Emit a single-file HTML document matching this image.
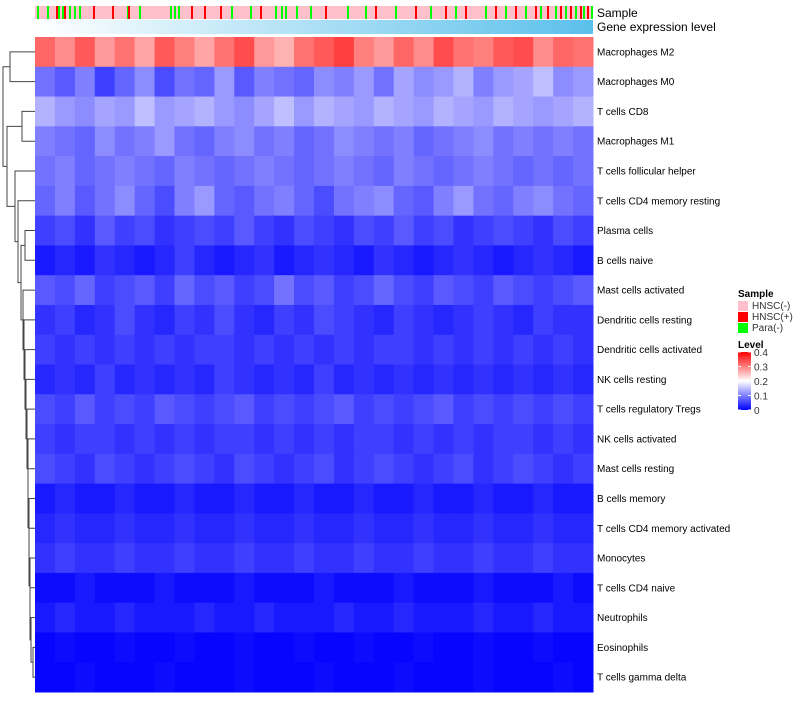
<!DOCTYPE html>
<html><head><meta charset="utf-8">
<style>
body{margin:0;background:#fff;width:800px;height:700px;overflow:hidden;font-family:"Liberation Sans",sans-serif}
svg text{font-family:"Liberation Sans",sans-serif}
</style></head>
<body>
<svg id="c" width="800" height="700"></svg>
<script>
const rowLabels=["Macrophages M2","Macrophages M0","T cells CD8","Macrophages M1","T cells follicular helper","T cells CD4 memory resting","Plasma cells","B cells naive","Mast cells activated","Dendritic cells resting","Dendritic cells activated","NK cells resting","T cells regulatory  Tregs","NK cells activated","Mast cells resting","B cells memory","T cells CD4 memory activated","Monocytes","T cells CD4 naive","Neutrophils","Eosinophils","T cells gamma delta"];
const r0=[0.32,0.29,0.33,0.28,0.31,0.27,0.33,0.3,0.27,0.31,0.34,0.28,0.26,0.31,0.33,0.35,0.3,0.28,0.32,0.29,0.34,0.31,0.3,0.33,0.34,0.29,0.32,0.31];
const r1=[0.09,0.07,0.1,0.05,0.08,0.11,0.06,0.09,0.08,0.12,0.07,0.1,0.09,0.08,0.11,0.1,0.12,0.09,0.13,0.11,0.12,0.14,0.1,0.12,0.13,0.15,0.11,0.12];
const r2=[0.14,0.12,0.11,0.13,0.12,0.15,0.12,0.13,0.14,0.12,0.11,0.13,0.15,0.12,0.14,0.13,0.12,0.14,0.13,0.12,0.14,0.13,0.12,0.14,0.13,0.12,0.13,0.14];
const r3=[0.1,0.09,0.08,0.11,0.09,0.1,0.12,0.09,0.08,0.1,0.11,0.09,0.1,0.08,0.09,0.11,0.1,0.09,0.1,0.08,0.09,0.1,0.11,0.09,0.1,0.09,0.1,0.09];
const r4=[0.09,0.1,0.08,0.09,0.1,0.09,0.08,0.1,0.09,0.08,0.09,0.1,0.09,0.08,0.09,0.1,0.09,0.08,0.1,0.09,0.08,0.09,0.1,0.09,0.08,0.09,0.08,0.09];
const r5=[0.08,0.1,0.07,0.09,0.11,0.08,0.06,0.1,0.12,0.08,0.07,0.09,0.1,0.08,0.06,0.09,0.1,0.11,0.08,0.07,0.1,0.12,0.09,0.08,0.1,0.11,0.09,0.08];
const r6=[0.05,0.06,0.04,0.07,0.05,0.06,0.04,0.05,0.06,0.05,0.07,0.05,0.04,0.06,0.05,0.04,0.06,0.05,0.07,0.05,0.06,0.04,0.05,0.06,0.05,0.04,0.06,0.05];
const r7=[0.02,0.03,0.02,0.04,0.03,0.02,0.03,0.05,0.03,0.02,0.03,0.04,0.02,0.03,0.04,0.03,0.02,0.04,0.03,0.02,0.03,0.04,0.03,0.02,0.03,0.04,0.03,0.02];
const r8=[0.07,0.06,0.08,0.05,0.06,0.07,0.05,0.08,0.06,0.07,0.05,0.06,0.09,0.06,0.07,0.05,0.06,0.08,0.06,0.05,0.07,0.06,0.05,0.07,0.06,0.05,0.06,0.07];
const r9=[0.04,0.05,0.03,0.04,0.06,0.04,0.03,0.05,0.04,0.06,0.04,0.03,0.05,0.04,0.06,0.05,0.04,0.03,0.05,0.04,0.03,0.04,0.05,0.04,0.03,0.05,0.04,0.04];
const r10=[0.05,0.04,0.05,0.04,0.05,0.04,0.05,0.04,0.05,0.05,0.04,0.05,0.04,0.05,0.04,0.05,0.04,0.05,0.05,0.04,0.05,0.04,0.05,0.04,0.05,0.04,0.05,0.04];
const r11=[0.03,0.04,0.03,0.05,0.03,0.04,0.03,0.04,0.03,0.05,0.04,0.03,0.04,0.03,0.05,0.03,0.04,0.03,0.04,0.03,0.04,0.03,0.04,0.03,0.04,0.03,0.04,0.03];
const r12=[0.06,0.05,0.07,0.05,0.06,0.05,0.07,0.06,0.05,0.06,0.07,0.05,0.06,0.05,0.06,0.07,0.05,0.06,0.05,0.06,0.07,0.05,0.06,0.05,0.06,0.05,0.06,0.05];
const r13=[0.05,0.04,0.05,0.05,0.04,0.05,0.04,0.05,0.04,0.05,0.05,0.04,0.05,0.04,0.05,0.04,0.05,0.05,0.04,0.05,0.04,0.05,0.04,0.05,0.05,0.04,0.05,0.04];
const r14=[0.06,0.05,0.04,0.06,0.05,0.04,0.05,0.06,0.05,0.04,0.06,0.05,0.04,0.05,0.06,0.04,0.05,0.06,0.05,0.04,0.05,0.06,0.04,0.05,0.06,0.05,0.04,0.05];
const r15=[0.02,0.03,0.02,0.02,0.03,0.02,0.02,0.03,0.02,0.02,0.03,0.02,0.02,0.03,0.02,0.02,0.03,0.02,0.02,0.03,0.02,0.02,0.03,0.02,0.02,0.03,0.02,0.02];
const r16=[0.03,0.04,0.03,0.03,0.04,0.03,0.03,0.04,0.03,0.03,0.04,0.03,0.03,0.04,0.03,0.03,0.04,0.03,0.03,0.04,0.03,0.03,0.04,0.03,0.03,0.04,0.03,0.03];
const r17=[0.04,0.05,0.04,0.04,0.05,0.04,0.04,0.05,0.04,0.04,0.05,0.04,0.04,0.05,0.04,0.04,0.05,0.04,0.04,0.05,0.04,0.04,0.05,0.04,0.04,0.05,0.04,0.04];
const r18=[0.01,0.01,0.02,0.01,0.01,0.01,0.02,0.01,0.01,0.01,0.02,0.01,0.01,0.01,0.02,0.01,0.01,0.01,0.02,0.01,0.01,0.01,0.02,0.01,0.01,0.01,0.02,0.01];
const r19=[0.02,0.03,0.02,0.02,0.03,0.02,0.02,0.02,0.03,0.02,0.02,0.03,0.02,0.02,0.02,0.03,0.02,0.02,0.03,0.02,0.02,0.02,0.03,0.02,0.02,0.03,0.02,0.02];
const r20=[0.005,0.01,0.005,0.005,0.01,0.005,0.005,0.01,0.005,0.005,0.01,0.005,0.005,0.01,0.005,0.005,0.01,0.005,0.005,0.01,0.005,0.005,0.01,0.005,0.005,0.01,0.005,0.005];
const r21=[0.005,0.005,0.01,0.005,0.005,0.005,0.01,0.005,0.005,0.005,0.01,0.005,0.005,0.005,0.01,0.005,0.005,0.005,0.01,0.005,0.005,0.005,0.01,0.005,0.005,0.005,0.01,0.005];
const rows=[r0,r1,r2,r3,r4,r5,r6,r7,r8,r9,r10,r11,r12,r13,r14,r15,r16,r17,r18,r19,r20,r21];
const nSamples=558;
const greenSamples=[2,12,23,27,34,39,44,92,104,135,139,143,196,215,240,246,250,261,275,312,330,360,395,420,450,470,490,505,520,530,540,548,556];
const redSamples=[21,29,58,77,93,156,169,185,225,290,340,380,410,430,460,480,500,512,525,535,545,552];
const legendTicks=[0,0.1,0.2,0.3,0.4];
const merges=[[0,1,10],[2,3,22],[20,21,33],[19,"n2",31],[18,"n3",30],[17,"n4",30],[16,"n5",29],[15,"n6",29],[14,"n7",28],[13,"n8",28],[12,"n9",27],[11,"n10",26],[10,"n11",25],[9,"n12",24],[8,"n13",23],[6,7,25],["n15","n14",21],[5,"n16",18],[4,"n17",15],["n1","n18",7],["n0","n19",3]];

const NS="http://www.w3.org/2000/svg";
const svg=document.getElementById('c');
function mk(t,a,p){const e=document.createElementNS(NS,t);for(const k in a)e.setAttribute(k,a[k]);(p||svg).appendChild(e);return e;}
const X0=35,X1=593,Y0=37,Y1=692,RH=(Y1-Y0)/rows.length;
const xs=i=>X0+(X1-X0)*i/nSamples;
const yc=i=>Y0+(i+0.5)*RH;
function col(v){const t=Math.max(0,Math.min(1,v/0.4));let r,g,b;
 if(t<0.5){const u=t/0.5;r=255*u;g=255*u;b=255;}else{const u=(t-0.5)/0.5;r=255;g=255*(1-u);b=255*(1-u);}
 return `rgb(${r|0},${g|0},${b|0})`;}

let e=mk('rect',{x:X0,y:6,width:X1-X0,height:13,fill:'#ffc0cb'});

greenSamples.forEach(s=>{const r=mk('rect',{x:xs(s),y:6,width:2,height:13,fill:'#00ff00'});
});
redSamples.forEach(s=>{const r=mk('rect',{x:xs(s),y:6,width:2,height:13,fill:'#ff0000'});
});
const defs=mk('defs',{});const lg=mk('linearGradient',{id:'gl',x1:0,x2:1,y1:0,y2:0},defs);
mk('stop',{offset:0,'stop-color':'#ffffff'},lg);mk('stop',{offset:1,'stop-color':'#5bc0eb'},lg);
e=mk('rect',{x:X0,y:20,width:X1-X0,height:14,fill:'url(#gl)'});

e=mk('text',{x:597,y:17,'font-size':12});e.textContent='Sample';

e=mk('text',{x:597,y:31,'font-size':12});e.textContent='Gene expression level';


rows.forEach((vals,i)=>{const g=mk('g',{});
 
 const bw=(X1-X0)/vals.length;
 vals.forEach((v,j)=>{const r=mk('rect',{x:X0+j*bw,y:Y0+i*RH,width:bw+0.5,height:RH+0.5,fill:col(v)},g);
  });
 const t=mk('text',{x:597,y:yc(i)+3.5,'font-size':10});t.textContent=rowLabels[i];
 });

const nodes={};
const pos=k=>typeof k==='number'?{y:yc(k),x:X0}:nodes[k];
const dg=mk('g',{stroke:'#444','stroke-width':1,fill:'none'});

merges.forEach((m,i)=>{const a=pos(m[0]),b=pos(m[1]),h=m[2];
 mk('path',{d:`M${a.x},${a.y}H${h}V${b.y}H${b.x}`},dg);
 nodes['n'+i]={x:h,y:(a.y+b.y)/2};});

const L=mk('g',{});
e=mk('text',{x:738,y:297,'font-size':10,'font-weight':'bold'},L);e.textContent='Sample';
[['#ffc0cb','HNSC(-)'],['#ff0000','HNSC(+)'],['#00ff00','Para(-)']].forEach((d,i)=>{
 const r=mk('rect',{x:738,y:301+i*11,width:10,height:10,fill:d[0]},L);
 
 const t=mk('text',{x:752,y:309+i*11,'font-size':10,fill:'#333'},L);t.textContent=d[1];
 });
e=mk('text',{x:738,y:348,'font-size':10,'font-weight':'bold'},L);e.textContent='Level';
const lg2=mk('linearGradient',{id:'gv',x1:0,x2:0,y1:1,y2:0},defs);
[0,0.25,0.5,0.75,1].forEach(o=>mk('stop',{offset:o,'stop-color':col(o*0.4)},lg2));
const LY0=410,LY1=352;const ly=v=>LY0-(LY0-LY1)*v/0.4;
e=mk('rect',{x:738,y:LY1,width:13,height:LY0-LY1,fill:'url(#gv)'},L);

legendTicks.forEach(v=>{mk('line',{x1:738,x2:741,y1:ly(v),y2:ly(v),stroke:'#fff'},L);
 mk('line',{x1:748,x2:751,y1:ly(v),y2:ly(v),stroke:'#fff'},L);
 const t=mk('text',{x:754,y:ly(v)+4,'font-size':10,fill:'#333'},L);t.textContent=v===0?'0':String(v);
 });
</script>
</body></html>
